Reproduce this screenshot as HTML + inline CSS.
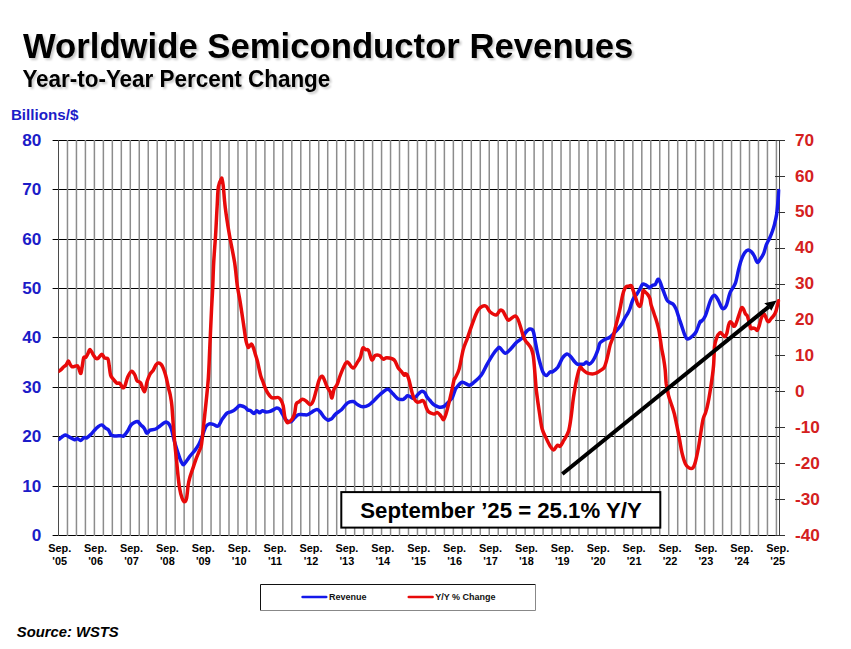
<!DOCTYPE html>
<html><head><meta charset="utf-8"><style>
html,body{margin:0;padding:0;background:#fff;}
body{width:851px;height:649px;overflow:hidden;position:relative;font-family:"Liberation Sans",sans-serif;}
svg{position:absolute;left:0;top:0;}
text{font-family:"Liberation Sans",sans-serif;font-weight:bold;}
.ll{font-size:17.2px;fill:#1c1cc8;}
.rl{font-size:17.2px;fill:#d42020;}
.xl{font-size:10.9px;fill:#000;}
.t1{font-size:34.7px;fill:#000;}
.t2{font-size:22.45px;fill:#000;}
</style></head><body>
<svg width="851" height="649" viewBox="0 0 851 649">
<defs><clipPath id="pc"><rect x="58.5" y="100" width="722" height="440"/></clipPath>
<filter id="sh" x="-5%" y="-20%" width="110%" height="150%"><feGaussianBlur in="SourceAlpha" stdDeviation="1.2"/><feOffset dx="2" dy="2" result="b"/><feComponentTransfer><feFuncA type="linear" slope="0.22"/></feComponentTransfer><feMerge><feMergeNode/><feMergeNode in="SourceGraphic"/></feMerge></filter></defs>
<text transform="translate(23.0,57.8) scale(1,1.01)" class="t1" filter="url(#sh)">Worldwide Semiconductor Revenues</text>
<text transform="translate(22.4,86.8) scale(1,1.03)" class="t2" filter="url(#sh)">Year-to-Year Percent Change</text>
<text x="10.9" y="120.3" style="font-size:15.2px;fill:#1c1cc8">Billions/$</text>
<line x1="52.6" y1="140.5" x2="785" y2="140.5" stroke="#000" stroke-width="1"/>
<line x1="52.6" y1="189.5" x2="780" y2="189.5" stroke="#000" stroke-width="1"/>
<line x1="52.6" y1="239.5" x2="780" y2="239.5" stroke="#000" stroke-width="1"/>
<line x1="52.6" y1="288.5" x2="780" y2="288.5" stroke="#000" stroke-width="1"/>
<line x1="52.6" y1="337.5" x2="780" y2="337.5" stroke="#000" stroke-width="1"/>
<line x1="52.6" y1="387.5" x2="780" y2="387.5" stroke="#000" stroke-width="1"/>
<line x1="52.6" y1="436.5" x2="780" y2="436.5" stroke="#000" stroke-width="1"/>
<line x1="52.6" y1="486.5" x2="780" y2="486.5" stroke="#000" stroke-width="1"/>
<line x1="52.6" y1="535.5" x2="785" y2="535.5" stroke="#000" stroke-width="1"/>
<line x1="67.47" y1="140" x2="67.47" y2="536" stroke="#8c8c8c" stroke-width="1.5"/>
<line x1="76.45" y1="140" x2="76.45" y2="536" stroke="#8c8c8c" stroke-width="1.5"/>
<line x1="85.42" y1="140" x2="85.42" y2="536" stroke="#8c8c8c" stroke-width="1.5"/>
<line x1="94.40" y1="140" x2="94.40" y2="536" stroke="#8c8c8c" stroke-width="1.5"/>
<line x1="103.37" y1="140" x2="103.37" y2="536" stroke="#8c8c8c" stroke-width="1.5"/>
<line x1="112.34" y1="140" x2="112.34" y2="536" stroke="#8c8c8c" stroke-width="1.5"/>
<line x1="121.32" y1="140" x2="121.32" y2="536" stroke="#8c8c8c" stroke-width="1.5"/>
<line x1="130.29" y1="140" x2="130.29" y2="536" stroke="#8c8c8c" stroke-width="1.5"/>
<line x1="139.27" y1="140" x2="139.27" y2="536" stroke="#8c8c8c" stroke-width="1.5"/>
<line x1="148.24" y1="140" x2="148.24" y2="536" stroke="#8c8c8c" stroke-width="1.5"/>
<line x1="157.21" y1="140" x2="157.21" y2="536" stroke="#8c8c8c" stroke-width="1.5"/>
<line x1="166.19" y1="140" x2="166.19" y2="536" stroke="#8c8c8c" stroke-width="1.5"/>
<line x1="175.16" y1="140" x2="175.16" y2="536" stroke="#8c8c8c" stroke-width="1.5"/>
<line x1="184.14" y1="140" x2="184.14" y2="536" stroke="#8c8c8c" stroke-width="1.5"/>
<line x1="193.11" y1="140" x2="193.11" y2="536" stroke="#8c8c8c" stroke-width="1.5"/>
<line x1="202.08" y1="140" x2="202.08" y2="536" stroke="#8c8c8c" stroke-width="1.5"/>
<line x1="211.06" y1="140" x2="211.06" y2="536" stroke="#8c8c8c" stroke-width="1.5"/>
<line x1="220.03" y1="140" x2="220.03" y2="536" stroke="#8c8c8c" stroke-width="1.5"/>
<line x1="229.01" y1="140" x2="229.01" y2="536" stroke="#8c8c8c" stroke-width="1.5"/>
<line x1="237.98" y1="140" x2="237.98" y2="536" stroke="#8c8c8c" stroke-width="1.5"/>
<line x1="246.95" y1="140" x2="246.95" y2="536" stroke="#8c8c8c" stroke-width="1.5"/>
<line x1="255.93" y1="140" x2="255.93" y2="536" stroke="#8c8c8c" stroke-width="1.5"/>
<line x1="264.90" y1="140" x2="264.90" y2="536" stroke="#8c8c8c" stroke-width="1.5"/>
<line x1="273.88" y1="140" x2="273.88" y2="536" stroke="#8c8c8c" stroke-width="1.5"/>
<line x1="282.85" y1="140" x2="282.85" y2="536" stroke="#8c8c8c" stroke-width="1.5"/>
<line x1="291.82" y1="140" x2="291.82" y2="536" stroke="#8c8c8c" stroke-width="1.5"/>
<line x1="300.80" y1="140" x2="300.80" y2="536" stroke="#8c8c8c" stroke-width="1.5"/>
<line x1="309.77" y1="140" x2="309.77" y2="536" stroke="#8c8c8c" stroke-width="1.5"/>
<line x1="318.75" y1="140" x2="318.75" y2="536" stroke="#8c8c8c" stroke-width="1.5"/>
<line x1="327.72" y1="140" x2="327.72" y2="536" stroke="#8c8c8c" stroke-width="1.5"/>
<line x1="336.69" y1="140" x2="336.69" y2="536" stroke="#8c8c8c" stroke-width="1.5"/>
<line x1="345.67" y1="140" x2="345.67" y2="536" stroke="#8c8c8c" stroke-width="1.5"/>
<line x1="354.64" y1="140" x2="354.64" y2="536" stroke="#8c8c8c" stroke-width="1.5"/>
<line x1="363.62" y1="140" x2="363.62" y2="536" stroke="#8c8c8c" stroke-width="1.5"/>
<line x1="372.59" y1="140" x2="372.59" y2="536" stroke="#8c8c8c" stroke-width="1.5"/>
<line x1="381.56" y1="140" x2="381.56" y2="536" stroke="#8c8c8c" stroke-width="1.5"/>
<line x1="390.54" y1="140" x2="390.54" y2="536" stroke="#8c8c8c" stroke-width="1.5"/>
<line x1="399.51" y1="140" x2="399.51" y2="536" stroke="#8c8c8c" stroke-width="1.5"/>
<line x1="408.49" y1="140" x2="408.49" y2="536" stroke="#8c8c8c" stroke-width="1.5"/>
<line x1="417.46" y1="140" x2="417.46" y2="536" stroke="#8c8c8c" stroke-width="1.5"/>
<line x1="426.43" y1="140" x2="426.43" y2="536" stroke="#8c8c8c" stroke-width="1.5"/>
<line x1="435.41" y1="140" x2="435.41" y2="536" stroke="#8c8c8c" stroke-width="1.5"/>
<line x1="444.38" y1="140" x2="444.38" y2="536" stroke="#8c8c8c" stroke-width="1.5"/>
<line x1="453.36" y1="140" x2="453.36" y2="536" stroke="#8c8c8c" stroke-width="1.5"/>
<line x1="462.33" y1="140" x2="462.33" y2="536" stroke="#8c8c8c" stroke-width="1.5"/>
<line x1="471.30" y1="140" x2="471.30" y2="536" stroke="#8c8c8c" stroke-width="1.5"/>
<line x1="480.28" y1="140" x2="480.28" y2="536" stroke="#8c8c8c" stroke-width="1.5"/>
<line x1="489.25" y1="140" x2="489.25" y2="536" stroke="#8c8c8c" stroke-width="1.5"/>
<line x1="498.23" y1="140" x2="498.23" y2="536" stroke="#8c8c8c" stroke-width="1.5"/>
<line x1="507.20" y1="140" x2="507.20" y2="536" stroke="#8c8c8c" stroke-width="1.5"/>
<line x1="516.17" y1="140" x2="516.17" y2="536" stroke="#8c8c8c" stroke-width="1.5"/>
<line x1="525.15" y1="140" x2="525.15" y2="536" stroke="#8c8c8c" stroke-width="1.5"/>
<line x1="534.12" y1="140" x2="534.12" y2="536" stroke="#8c8c8c" stroke-width="1.5"/>
<line x1="543.10" y1="140" x2="543.10" y2="536" stroke="#8c8c8c" stroke-width="1.5"/>
<line x1="552.07" y1="140" x2="552.07" y2="536" stroke="#8c8c8c" stroke-width="1.5"/>
<line x1="561.04" y1="140" x2="561.04" y2="536" stroke="#8c8c8c" stroke-width="1.5"/>
<line x1="570.02" y1="140" x2="570.02" y2="536" stroke="#8c8c8c" stroke-width="1.5"/>
<line x1="578.99" y1="140" x2="578.99" y2="536" stroke="#8c8c8c" stroke-width="1.5"/>
<line x1="587.97" y1="140" x2="587.97" y2="536" stroke="#8c8c8c" stroke-width="1.5"/>
<line x1="596.94" y1="140" x2="596.94" y2="536" stroke="#8c8c8c" stroke-width="1.5"/>
<line x1="605.91" y1="140" x2="605.91" y2="536" stroke="#8c8c8c" stroke-width="1.5"/>
<line x1="614.89" y1="140" x2="614.89" y2="536" stroke="#8c8c8c" stroke-width="1.5"/>
<line x1="623.86" y1="140" x2="623.86" y2="536" stroke="#8c8c8c" stroke-width="1.5"/>
<line x1="632.84" y1="140" x2="632.84" y2="536" stroke="#8c8c8c" stroke-width="1.5"/>
<line x1="641.81" y1="140" x2="641.81" y2="536" stroke="#8c8c8c" stroke-width="1.5"/>
<line x1="650.78" y1="140" x2="650.78" y2="536" stroke="#8c8c8c" stroke-width="1.5"/>
<line x1="659.76" y1="140" x2="659.76" y2="536" stroke="#8c8c8c" stroke-width="1.5"/>
<line x1="668.73" y1="140" x2="668.73" y2="536" stroke="#8c8c8c" stroke-width="1.5"/>
<line x1="677.71" y1="140" x2="677.71" y2="536" stroke="#8c8c8c" stroke-width="1.5"/>
<line x1="686.68" y1="140" x2="686.68" y2="536" stroke="#8c8c8c" stroke-width="1.5"/>
<line x1="695.65" y1="140" x2="695.65" y2="536" stroke="#8c8c8c" stroke-width="1.5"/>
<line x1="704.63" y1="140" x2="704.63" y2="536" stroke="#8c8c8c" stroke-width="1.5"/>
<line x1="713.60" y1="140" x2="713.60" y2="536" stroke="#8c8c8c" stroke-width="1.5"/>
<line x1="722.58" y1="140" x2="722.58" y2="536" stroke="#8c8c8c" stroke-width="1.5"/>
<line x1="731.55" y1="140" x2="731.55" y2="536" stroke="#8c8c8c" stroke-width="1.5"/>
<line x1="740.52" y1="140" x2="740.52" y2="536" stroke="#8c8c8c" stroke-width="1.5"/>
<line x1="749.50" y1="140" x2="749.50" y2="536" stroke="#8c8c8c" stroke-width="1.5"/>
<line x1="758.47" y1="140" x2="758.47" y2="536" stroke="#8c8c8c" stroke-width="1.5"/>
<line x1="767.45" y1="140" x2="767.45" y2="536" stroke="#8c8c8c" stroke-width="1.5"/>
<line x1="776.42" y1="140" x2="776.42" y2="536" stroke="#8c8c8c" stroke-width="1.5"/>
<line x1="58.5" y1="140" x2="58.5" y2="536" stroke="#4a4a4a" stroke-width="1"/>
<line x1="779.5" y1="140" x2="779.5" y2="536" stroke="#444" stroke-width="1"/>
<line x1="775" y1="140.5" x2="785" y2="140.5" stroke="#333" stroke-width="1"/>
<line x1="775" y1="176.5" x2="785" y2="176.5" stroke="#333" stroke-width="1"/>
<line x1="775" y1="212.5" x2="785" y2="212.5" stroke="#333" stroke-width="1"/>
<line x1="775" y1="248.5" x2="785" y2="248.5" stroke="#333" stroke-width="1"/>
<line x1="775" y1="284.5" x2="785" y2="284.5" stroke="#333" stroke-width="1"/>
<line x1="775" y1="320.5" x2="785" y2="320.5" stroke="#333" stroke-width="1"/>
<line x1="775" y1="355.5" x2="785" y2="355.5" stroke="#333" stroke-width="1"/>
<line x1="775" y1="391.5" x2="785" y2="391.5" stroke="#333" stroke-width="1"/>
<line x1="775" y1="427.5" x2="785" y2="427.5" stroke="#333" stroke-width="1"/>
<line x1="775" y1="463.5" x2="785" y2="463.5" stroke="#333" stroke-width="1"/>
<line x1="775" y1="499.5" x2="785" y2="499.5" stroke="#333" stroke-width="1"/>
<line x1="775" y1="535.5" x2="785" y2="535.5" stroke="#333" stroke-width="1"/>
<g clip-path="url(#pc)">
<path d="M58.5,439.5 C58.8,439.3 59.3,439.0 60.0,438.5 C60.7,438.0 61.9,436.9 62.8,436.3 C63.7,435.7 64.5,434.8 65.6,434.9 C66.7,435.0 68.0,436.3 69.5,437.1 C71.0,437.9 73.2,439.6 74.5,439.8 C75.8,440.0 76.3,438.4 77.3,438.5 C78.3,438.6 79.6,440.6 80.7,440.5 C81.8,440.4 83.0,438.0 84.0,437.6 C85.0,437.2 85.7,438.4 86.8,437.9 C87.9,437.4 89.4,435.9 90.7,434.6 C92.0,433.3 93.4,431.4 94.6,430.1 C95.8,428.8 96.8,427.7 98.0,426.8 C99.2,425.9 100.7,424.7 101.9,424.9 C103.1,425.1 104.1,427.0 105.2,427.9 C106.3,428.8 107.7,429.0 108.6,430.1 C109.5,431.2 110.1,433.7 110.8,434.6 C111.5,435.5 112.1,435.5 113.0,435.7 C113.9,435.9 115.1,436.0 116.4,436.0 C117.7,436.0 119.6,435.7 120.8,435.7 C122.0,435.7 122.5,436.8 123.6,436.0 C124.7,435.2 126.3,433.0 127.5,431.2 C128.7,429.4 129.8,426.5 130.9,425.1 C132.0,423.7 133.1,423.2 134.2,422.6 C135.3,422.0 136.5,421.1 137.6,421.5 C138.7,421.9 139.8,423.8 140.9,424.9 C142.0,426.0 143.4,427.1 144.3,428.4 C145.2,429.7 145.8,432.2 146.5,432.9 C147.2,433.5 147.6,432.8 148.2,432.3 C148.8,431.8 148.8,430.7 150.0,430.1 C151.2,429.6 154.0,429.7 155.7,429.0 C157.4,428.3 158.4,427.1 160.0,426.0 C161.6,424.9 163.7,422.8 165.0,422.3 C166.3,421.8 167.1,422.1 168.1,423.1 C169.1,424.1 170.2,425.5 171.2,428.5 C172.2,431.5 173.2,436.8 174.3,440.9 C175.5,445.0 176.9,449.7 178.1,453.2 C179.2,456.7 180.3,459.8 181.2,461.7 C182.1,463.6 182.6,464.9 183.5,464.8 C184.4,464.7 185.4,462.4 186.6,460.9 C187.8,459.3 189.1,457.3 190.5,455.5 C191.9,453.7 193.7,452.0 195.1,450.1 C196.5,448.2 197.8,446.2 199.0,444.0 C200.2,441.8 200.9,439.9 202.0,437.0 C203.1,434.1 204.6,428.9 205.8,426.7 C207.0,424.5 208.0,424.2 209.3,423.8 C210.6,423.4 211.9,424.0 213.4,424.4 C214.9,424.8 216.6,427.0 218.1,426.1 C219.6,425.2 220.8,421.2 222.3,419.1 C223.8,417.0 225.6,414.4 227.0,413.2 C228.4,412.0 229.3,412.5 230.5,412.0 C231.7,411.5 232.6,411.3 234.0,410.3 C235.4,409.3 237.7,407.0 238.7,406.2 C239.7,405.4 238.9,405.3 240.0,405.5 C241.1,405.7 243.7,406.4 245.0,407.2 C246.3,407.9 246.9,409.4 247.8,410.0 C248.7,410.6 249.6,410.1 250.6,410.7 C251.6,411.3 253.0,413.5 254.0,413.5 C255.0,413.5 255.9,410.8 256.8,410.7 C257.7,410.6 258.7,412.8 259.6,412.8 C260.5,412.8 261.4,410.8 262.4,410.7 C263.4,410.6 264.5,412.0 265.8,412.1 C267.1,412.2 268.6,411.9 270.0,411.4 C271.4,410.9 273.1,409.9 274.2,409.3 C275.3,408.7 276.0,407.9 276.9,407.9 C277.8,407.9 278.8,408.2 279.7,409.3 C280.6,410.4 281.4,412.4 282.5,414.2 C283.6,416.0 284.8,418.9 286.2,420.1 C287.6,421.4 289.4,422.1 290.8,421.7 C292.2,421.3 293.4,419.0 294.7,417.8 C296.0,416.6 297.2,415.2 298.6,414.7 C300.0,414.2 301.7,414.7 303.2,414.7 C304.7,414.7 306.3,415.2 307.8,414.7 C309.3,414.2 310.9,412.6 312.4,411.7 C313.9,410.8 315.7,409.4 317.0,409.4 C318.3,409.4 318.9,410.4 320.1,411.7 C321.3,413.0 322.7,415.7 324.0,417.1 C325.3,418.5 326.8,419.7 327.8,420.1 C328.8,420.5 329.3,419.7 330.0,419.4 C330.7,419.1 331.0,419.4 331.9,418.5 C332.8,417.6 334.0,415.6 335.6,414.1 C337.2,412.6 339.4,411.5 341.4,409.7 C343.3,407.9 345.4,404.5 347.3,403.1 C349.2,401.8 351.4,401.4 353.1,401.6 C354.8,401.8 355.9,403.6 357.5,404.5 C359.1,405.4 360.9,406.6 362.7,406.7 C364.5,406.8 366.7,406.3 368.5,405.3 C370.3,404.3 371.8,402.6 373.6,400.9 C375.4,399.2 377.2,396.9 379.5,395.0 C381.8,393.1 385.3,389.4 387.5,389.2 C389.7,389.0 391.0,392.0 392.7,393.6 C394.4,395.2 396.1,397.7 397.8,398.7 C399.5,399.7 401.7,399.5 402.9,399.4 C404.1,399.3 404.2,398.6 405.0,398.0 C405.8,397.4 406.6,396.0 407.5,395.8 C408.4,395.6 409.2,396.3 410.1,396.7 C411.0,397.1 412.1,398.4 413.1,398.4 C414.1,398.4 415.1,397.5 416.0,396.7 C416.9,395.9 417.6,394.6 418.6,393.7 C419.6,392.8 420.8,391.3 421.9,391.2 C422.9,391.1 424.0,391.9 424.9,392.9 C425.8,393.9 426.1,395.8 427.0,397.1 C427.9,398.4 428.9,399.2 430.0,400.5 C431.1,401.8 432.6,403.7 433.8,404.7 C435.0,405.7 436.1,406.0 437.2,406.4 C438.3,406.8 439.5,407.3 440.6,407.3 C441.7,407.3 442.9,407.0 444.0,406.4 C445.1,405.8 446.0,404.5 447.0,403.5 C448.0,402.5 449.0,401.6 449.9,400.5 C450.8,399.4 451.6,398.8 452.5,397.1 C453.4,395.4 454.4,391.8 455.0,390.3 C455.6,388.8 454.9,389.6 456.1,388.2 C457.3,386.8 459.9,382.7 462.1,382.2 C464.3,381.7 467.1,385.2 469.1,385.2 C471.1,385.2 472.1,383.9 474.1,382.2 C476.1,380.5 479.0,378.2 481.2,375.2 C483.4,372.2 485.2,367.6 487.2,364.1 C489.2,360.6 491.4,356.8 493.2,354.1 C495.0,351.4 497.1,349.2 498.2,348.1 C499.3,347.1 498.8,346.9 500.0,347.8 C501.2,348.7 503.6,353.2 505.5,353.3 C507.4,353.4 509.2,350.4 511.1,348.5 C513.0,346.6 514.8,343.9 516.6,342.2 C518.5,340.5 520.7,339.7 522.2,338.1 C523.7,336.5 524.3,334.0 525.6,332.5 C526.9,331.0 528.5,329.3 529.8,329.1 C531.1,328.9 532.3,329.1 533.2,331.2 C534.1,333.3 534.6,338.0 535.3,341.6 C536.0,345.2 536.6,348.9 537.4,352.6 C538.2,356.3 539.3,360.5 540.2,363.7 C541.1,366.9 541.9,370.0 542.9,372.0 C543.9,374.0 545.2,375.5 546.4,375.5 C547.6,375.5 549.0,372.6 550.0,372.0 C551.0,371.4 551.3,372.5 552.6,371.7 C553.9,370.9 556.1,369.5 557.8,367.2 C559.4,364.9 561.0,360.3 562.5,358.1 C564.0,355.9 565.6,354.2 567.0,354.0 C568.4,353.8 569.6,355.5 570.8,356.7 C572.0,357.9 572.9,359.8 574.0,361.0 C575.1,362.2 576.2,363.7 577.3,364.2 C578.4,364.7 579.4,364.2 580.5,364.2 C581.6,364.2 582.7,364.5 583.7,364.2 C584.7,363.9 585.5,362.1 586.4,362.1 C587.3,362.1 588.1,364.3 589.1,364.2 C590.1,364.1 591.3,362.9 592.4,361.5 C593.5,360.1 594.6,357.8 595.6,355.6 C596.6,353.5 597.6,350.7 598.3,348.6 C599.0,346.5 599.0,344.4 600.0,342.9 C601.0,341.4 602.6,340.7 604.3,339.7 C606.0,338.7 608.4,338.3 610.2,337.0 C612.0,335.7 613.7,333.6 615.1,332.1 C616.5,330.6 617.7,329.2 618.9,327.8 C620.1,326.4 621.1,325.1 622.1,323.5 C623.1,321.9 623.9,319.7 624.8,318.1 C625.7,316.5 626.7,315.2 627.5,313.8 C628.3,312.4 629.0,311.1 629.6,309.5 C630.2,307.9 630.7,305.9 631.3,304.1 C631.9,302.3 632.5,300.3 633.4,298.7 C634.3,297.1 635.5,296.0 636.6,294.4 C637.7,292.8 638.9,290.7 639.9,289.0 C640.9,287.3 641.7,284.9 642.6,284.2 C643.5,283.5 644.3,284.2 645.3,284.7 C646.3,285.1 647.8,286.4 648.5,286.9 C649.2,287.4 648.6,288.1 649.3,287.8 C650.0,287.5 651.7,285.9 652.7,285.3 C653.7,284.7 654.3,285.4 655.3,284.4 C656.3,283.4 657.3,278.4 658.6,279.3 C659.9,280.2 661.9,287.3 663.0,290.0 C664.1,292.7 664.4,293.8 665.1,295.5 C665.8,297.2 666.4,299.2 667.2,300.4 C668.0,301.6 668.9,301.8 669.9,302.5 C670.9,303.2 672.3,303.4 673.4,304.5 C674.5,305.6 675.3,307.2 676.2,309.4 C677.1,311.6 678.0,314.9 678.9,317.7 C679.8,320.5 680.8,323.2 681.7,326.0 C682.6,328.8 683.7,332.2 684.5,334.3 C685.3,336.4 685.8,337.8 686.6,338.5 C687.4,339.2 688.3,339.0 689.3,338.5 C690.3,338.0 691.6,336.8 692.8,335.7 C693.9,334.6 695.0,333.9 696.2,331.6 C697.4,329.3 699.2,323.5 700.0,321.9 C700.8,320.2 700.2,322.7 701.1,321.7 C702.0,320.7 703.6,319.7 705.2,316.1 C706.8,312.6 709.0,303.9 710.5,300.4 C712.0,296.9 713.1,295.2 714.4,295.2 C715.7,295.2 717.0,298.2 718.3,300.4 C719.6,302.6 721.0,307.4 722.3,308.3 C723.6,309.2 724.9,308.3 726.2,305.7 C727.5,303.1 728.6,296.3 730.1,292.6 C731.6,288.9 733.9,287.2 735.3,283.4 C736.7,279.6 737.5,273.8 738.5,269.9 C739.5,266.0 740.2,263.2 741.2,260.3 C742.2,257.4 743.5,254.4 744.7,252.7 C745.9,251.0 747.1,250.0 748.2,249.9 C749.4,249.8 750.6,250.9 751.6,252.0 C752.6,253.1 753.5,254.5 754.4,256.2 C755.3,257.9 756.3,261.8 757.2,262.4 C758.1,263.0 758.9,261.0 759.9,259.6 C760.9,258.2 762.3,256.5 763.4,254.1 C764.5,251.7 765.2,247.8 766.2,245.1 C767.2,242.4 768.6,240.5 769.6,238.2 C770.6,235.9 771.6,233.5 772.4,231.2 C773.2,228.9 773.8,227.1 774.5,224.3 C775.2,221.5 776.0,218.3 776.6,214.6 C777.2,210.9 777.5,206.2 777.9,202.2 C778.3,198.2 778.7,192.4 778.9,190.4" fill="none" stroke="#1418ea" stroke-width="3.5" stroke-linejoin="round" stroke-linecap="round"/>
<path d="M58.7,371.4 C59.1,371.1 60.1,370.4 61.0,369.6 C61.9,368.8 62.9,367.6 63.8,366.8 C64.6,366.0 65.3,365.9 66.1,365.0 C66.9,364.1 67.7,361.2 68.4,361.1 C69.1,361.0 69.6,363.6 70.2,364.5 C70.8,365.4 71.3,366.5 72.1,366.8 C72.9,367.1 74.0,366.5 74.9,366.3 C75.8,366.1 76.8,365.2 77.6,365.9 C78.4,366.6 79.0,369.3 79.5,370.5 C80.0,371.7 80.4,374.1 80.9,373.3 C81.4,372.5 81.8,368.5 82.3,365.9 C82.8,363.3 83.1,359.1 83.7,357.6 C84.3,356.1 85.3,357.7 86.0,357.1 C86.7,356.5 87.2,355.1 87.8,353.9 C88.4,352.7 89.1,350.1 89.7,349.7 C90.3,349.3 90.8,350.6 91.5,351.6 C92.2,352.6 93.0,354.6 93.8,355.7 C94.6,356.8 95.3,358.1 96.1,358.5 C96.9,358.9 97.5,358.7 98.4,358.0 C99.4,357.3 100.8,354.3 101.8,354.3 C102.8,354.3 103.6,357.2 104.6,358.0 C105.6,358.8 107.1,357.6 107.9,358.9 C108.7,360.2 108.8,363.2 109.2,365.9 C109.7,368.6 109.9,372.9 110.6,375.1 C111.3,377.3 112.4,378.0 113.4,379.3 C114.4,380.6 115.5,382.3 116.6,383.0 C117.7,383.7 118.9,382.6 119.9,383.4 C120.9,384.2 121.8,387.2 122.6,387.6 C123.4,388.0 124.2,387.5 125.0,385.7 C125.8,383.9 126.6,379.4 127.7,377.0 C128.8,374.6 130.2,371.8 131.4,371.4 C132.6,371.0 133.8,373.1 134.7,374.7 C135.6,376.2 136.0,379.3 137.0,380.7 C138.0,382.1 139.5,381.1 140.7,383.0 C141.9,384.9 143.3,392.0 144.4,391.8 C145.5,391.6 146.2,384.5 147.1,381.6 C148.0,378.7 149.0,376.1 150.0,374.2 C151.0,372.3 152.1,372.0 153.1,370.5 C154.1,369.0 154.9,366.3 155.8,365.1 C156.7,363.9 157.6,363.2 158.5,363.1 C159.4,363.0 160.4,363.6 161.2,364.5 C162.0,365.4 162.6,366.6 163.3,368.3 C164.0,370.0 164.9,372.6 165.5,374.8 C166.1,377.0 166.6,379.0 167.1,381.3 C167.6,383.6 168.2,386.5 168.7,388.8 C169.2,391.1 169.8,392.4 170.3,395.3 C170.8,398.2 171.4,400.5 171.9,406.0 C172.4,411.5 173.0,421.9 173.5,428.5 C174.0,435.1 174.5,440.1 175.0,445.5 C175.5,450.9 176.1,455.8 176.6,460.9 C177.1,466.0 177.6,471.8 178.1,476.4 C178.6,481.0 179.0,485.1 179.7,488.7 C180.3,492.3 181.2,495.8 182.0,498.0 C182.8,500.2 183.5,501.8 184.3,501.8 C185.1,501.8 186.0,500.7 186.6,498.0 C187.2,495.3 187.6,489.0 188.1,485.6 C188.6,482.2 188.9,480.7 189.7,477.9 C190.5,475.1 191.8,471.7 192.8,468.6 C193.8,465.5 194.9,462.2 195.9,459.4 C196.9,456.6 198.1,454.0 199.0,451.7 C199.9,449.4 200.7,448.6 201.3,445.5 C201.9,442.4 202.3,437.4 202.8,433.1 C203.3,428.9 203.6,425.4 204.2,420.0 C204.8,414.6 205.5,408.1 206.2,401.0 C206.9,393.9 207.8,386.6 208.4,377.2 C209.0,367.8 209.4,355.6 209.9,344.8 C210.4,334.0 211.0,321.5 211.4,312.4 C211.8,303.3 212.2,298.5 212.6,290.2 C213.0,281.9 213.2,271.8 213.7,262.6 C214.2,253.4 215.0,244.1 215.6,234.8 C216.2,225.5 216.6,215.0 217.1,207.0 C217.6,199.0 217.6,191.5 218.4,186.7 C219.2,181.9 221.2,179.4 221.8,178.0 C222.0,179.2 222.6,180.7 223.2,185.5 C223.8,190.3 224.2,198.8 225.2,207.0 C226.2,215.2 227.8,225.5 229.4,234.8 C231.0,244.1 233.3,254.2 234.6,262.6 C235.9,271.0 236.3,278.5 237.2,285.0 C238.1,291.5 239.1,295.2 240.1,301.6 C241.1,308.0 242.5,316.9 243.4,323.2 C244.3,329.5 245.1,335.6 245.7,339.2 C246.3,342.8 246.6,343.3 247.1,344.7 C247.6,346.1 247.8,347.6 248.5,347.5 C249.2,347.4 250.5,344.0 251.3,344.0 C252.1,344.0 252.6,345.8 253.3,347.5 C254.0,349.2 254.7,352.1 255.4,354.4 C256.1,356.7 256.8,358.6 257.5,361.4 C258.2,364.2 259.0,368.6 259.6,371.1 C260.2,373.7 260.4,374.9 261.0,376.7 C261.6,378.5 262.4,380.3 263.1,382.2 C263.8,384.1 264.3,385.9 265.1,387.8 C265.9,389.7 266.8,391.7 267.9,393.3 C268.9,394.9 270.2,396.8 271.4,397.5 C272.6,398.2 273.8,397.8 274.9,397.8 C276.0,397.8 277.3,397.1 278.3,397.5 C279.3,397.9 280.3,398.9 281.1,400.3 C281.9,401.7 282.6,403.1 283.2,405.8 C283.8,408.5 284.1,413.5 284.7,416.3 C285.3,419.1 286.2,421.5 287.0,422.4 C287.8,423.3 288.4,422.3 289.3,421.7 C290.2,421.1 291.5,420.0 292.4,418.6 C293.3,417.2 294.1,415.6 294.7,413.2 C295.3,410.8 295.4,405.9 296.2,404.0 C297.0,402.1 298.3,402.4 299.3,401.6 C300.3,400.8 301.2,399.4 302.4,399.3 C303.6,399.2 305.0,400.3 306.3,401.2 C307.6,402.1 309.0,404.8 310.1,404.7 C311.2,404.6 312.2,403.3 313.2,400.9 C314.2,398.5 315.3,393.7 316.3,390.1 C317.3,386.5 318.4,381.6 319.4,379.3 C320.4,377.0 321.5,375.9 322.4,376.2 C323.3,376.4 323.9,379.0 324.7,380.8 C325.5,382.6 326.2,385.2 327.1,387.0 C328.0,388.8 329.2,389.8 330.0,391.6 C330.8,393.4 331.2,398.4 331.9,398.0 C332.6,397.6 333.2,391.4 334.1,389.2 C335.0,387.0 336.0,387.0 337.0,384.8 C338.0,382.6 338.9,378.9 340.0,376.0 C341.1,373.1 342.4,369.5 343.6,367.2 C344.8,364.9 345.7,362.0 347.3,362.1 C348.9,362.2 351.4,368.0 353.1,368.0 C354.8,368.0 356.3,363.9 357.5,362.1 C358.7,360.3 359.6,359.3 360.5,357.0 C361.4,354.7 361.8,349.4 362.7,348.2 C363.6,347.0 364.6,349.2 365.6,349.6 C366.6,350.0 367.4,348.7 368.5,350.4 C369.6,352.1 370.8,359.0 371.9,359.9 C373.0,360.8 373.8,356.2 375.1,355.5 C376.4,354.8 378.1,354.9 379.5,355.5 C380.9,356.1 382.0,358.8 383.2,359.2 C384.4,359.6 385.0,357.6 386.8,357.7 C388.6,357.8 392.3,358.3 394.1,359.9 C395.9,361.5 396.6,365.2 397.8,367.2 C399.0,369.1 400.4,370.2 401.5,371.6 C402.6,373.0 403.8,374.9 404.4,375.3 C405.0,375.7 404.6,373.9 405.0,373.8 C405.4,373.7 406.5,373.8 407.1,374.7 C407.7,375.6 408.2,377.4 408.8,379.3 C409.4,381.2 409.9,383.6 410.5,386.1 C411.1,388.7 411.9,392.3 412.6,394.6 C413.3,396.9 413.9,398.4 414.7,399.7 C415.5,401.0 416.4,401.8 417.3,402.2 C418.2,402.6 419.0,402.1 419.8,401.8 C420.6,401.5 421.6,400.4 422.4,400.5 C423.2,400.6 423.9,401.5 424.5,402.6 C425.1,403.7 425.6,405.8 426.2,407.3 C426.8,408.8 427.4,410.5 428.3,411.5 C429.2,412.5 430.3,412.8 431.3,413.2 C432.3,413.6 433.2,414.2 434.2,414.1 C435.2,414.0 436.3,412.3 437.2,412.4 C438.1,412.5 438.9,413.6 439.7,414.5 C440.5,415.4 441.2,416.6 441.9,417.5 C442.5,418.4 443.0,420.0 443.6,419.6 C444.2,419.2 445.0,416.9 445.7,414.9 C446.4,412.8 447.1,410.0 447.8,407.3 C448.5,404.6 449.2,401.8 449.9,398.8 C450.6,395.8 451.3,392.8 452.0,389.5 C452.7,386.2 453.7,381.2 454.2,379.3 C454.7,377.4 454.3,379.9 455.1,378.2 C455.9,376.5 457.8,373.8 459.1,369.1 C460.4,364.4 461.8,355.1 463.1,350.1 C464.4,345.1 465.9,342.4 467.1,339.1 C468.3,335.8 468.9,333.5 470.1,330.1 C471.3,326.8 472.8,322.4 474.1,319.0 C475.4,315.6 476.8,312.1 478.1,310.0 C479.5,307.9 480.9,307.0 482.2,306.4 C483.5,305.8 484.9,305.5 486.2,306.4 C487.5,307.3 488.5,310.6 490.2,312.0 C491.9,313.4 494.6,315.3 496.2,315.0 C497.8,314.7 498.9,311.0 500.0,310.4 C501.1,309.8 501.9,310.2 502.8,311.1 C503.7,312.0 504.6,314.4 505.5,315.9 C506.4,317.4 507.2,319.8 508.3,320.1 C509.4,320.5 510.6,318.7 511.8,318.0 C513.0,317.3 514.2,315.7 515.2,315.9 C516.2,316.1 517.1,317.4 518.0,319.4 C518.9,321.4 519.9,324.8 520.8,327.7 C521.7,330.6 522.7,334.5 523.5,336.7 C524.3,338.9 524.8,339.6 525.6,340.9 C526.4,342.2 527.5,343.0 528.4,344.3 C529.3,345.6 530.4,346.6 531.2,348.5 C532.0,350.4 532.6,351.9 533.2,355.4 C533.8,358.9 534.2,364.7 534.6,369.3 C535.0,373.9 535.4,379.5 535.7,383.1 C536.0,386.7 535.8,386.0 536.4,391.0 C537.0,396.0 538.5,406.7 539.5,413.0 C540.5,419.3 541.0,424.6 542.1,428.7 C543.2,432.8 544.7,435.0 546.0,437.9 C547.3,440.8 548.8,443.8 550.0,445.8 C551.2,447.8 552.3,450.1 553.5,450.0 C554.7,449.9 556.3,445.9 557.4,445.3 C558.5,444.7 559.1,447.1 560.2,446.2 C561.3,445.3 562.5,442.6 563.9,440.2 C565.3,437.8 567.2,435.2 568.4,431.6 C569.6,428.0 570.0,424.0 570.9,418.3 C571.8,412.6 572.5,403.9 573.5,397.3 C574.5,390.8 575.6,384.0 576.7,379.0 C577.8,374.0 579.0,369.1 580.0,367.5 C581.0,365.9 581.5,368.7 582.7,369.6 C583.9,370.5 585.4,372.2 587.0,372.9 C588.6,373.6 590.8,373.9 592.4,373.9 C594.0,373.9 595.3,373.5 596.7,372.9 C598.1,372.3 599.8,371.1 601.0,370.2 C602.2,369.3 603.3,369.0 604.2,367.5 C605.1,366.0 605.7,363.5 606.4,361.0 C607.1,358.5 607.9,355.1 608.5,352.4 C609.1,349.7 609.5,347.4 610.2,344.9 C610.9,342.4 612.0,340.5 612.9,337.5 C613.8,334.5 614.7,330.3 615.6,326.7 C616.5,323.1 617.5,319.4 618.3,316.0 C619.1,312.6 619.9,309.4 620.5,306.3 C621.1,303.2 621.6,300.1 622.1,297.6 C622.6,295.1 623.1,293.0 623.7,291.2 C624.3,289.4 625.1,287.7 625.9,286.9 C626.7,286.1 627.7,286.5 628.6,286.3 C629.5,286.1 630.5,285.0 631.3,285.8 C632.1,286.6 632.7,289.2 633.4,291.2 C634.1,293.2 634.9,295.5 635.6,297.6 C636.3,299.8 637.0,302.7 637.7,304.1 C638.4,305.6 639.3,306.7 639.9,306.3 C640.5,305.9 641.0,304.5 641.5,302.0 C642.0,299.5 642.5,292.8 643.1,291.2 C643.7,289.6 644.5,291.6 645.3,292.2 C646.1,292.8 647.2,293.8 648.0,294.9 C648.8,296.0 649.5,297.0 650.0,298.7 C650.5,300.4 650.5,302.7 651.2,305.2 C651.9,307.7 653.1,310.7 654.0,313.5 C654.9,316.3 656.0,319.1 656.8,321.9 C657.6,324.7 658.3,327.4 658.9,330.2 C659.5,333.0 659.8,335.5 660.2,338.5 C660.7,341.5 661.0,344.7 661.6,348.2 C662.2,351.7 663.1,355.7 663.7,359.3 C664.3,362.9 664.8,366.0 665.2,370.0 C665.6,374.0 665.7,379.3 666.2,383.5 C666.8,387.7 667.6,391.7 668.5,395.4 C669.4,399.1 670.8,402.4 671.8,405.5 C672.8,408.6 673.5,410.6 674.4,414.0 C675.2,417.4 676.0,421.6 676.9,425.8 C677.8,430.0 678.6,434.9 679.5,439.4 C680.4,443.9 681.0,448.8 682.0,452.9 C683.0,457.0 684.3,461.4 685.4,463.9 C686.5,466.4 687.5,467.1 688.8,467.8 C690.1,468.5 691.9,468.9 693.0,467.8 C694.1,466.7 694.6,464.4 695.5,461.4 C696.4,458.3 697.2,454.0 698.1,449.5 C699.0,445.0 699.8,439.4 700.6,434.3 C701.4,429.2 702.2,422.8 703.1,419.1 C704.0,415.4 704.9,415.1 705.7,412.3 C706.6,409.5 707.4,406.3 708.2,402.1 C709.1,397.9 710.1,391.4 710.8,386.9 C711.5,382.4 712.0,378.8 712.5,375.1 C713.0,371.5 713.2,369.8 713.6,365.0 C714.0,360.2 714.1,350.6 714.6,346.2 C715.1,341.8 715.9,340.4 716.5,338.5 C717.1,336.6 717.5,335.7 718.1,334.7 C718.8,333.7 719.6,332.4 720.4,332.4 C721.2,332.4 721.9,334.0 722.7,334.7 C723.5,335.4 724.3,336.9 725.0,336.6 C725.7,336.3 726.3,335.0 726.9,333.1 C727.5,331.2 728.0,327.2 728.5,325.4 C729.0,323.5 729.4,322.4 730.0,322.0 C730.6,321.6 731.4,322.4 732.0,323.1 C732.6,323.8 732.9,325.9 733.5,326.2 C734.1,326.5 734.8,326.0 735.4,325.0 C736.0,324.0 736.6,321.9 737.3,320.0 C737.9,318.1 738.6,315.9 739.3,313.9 C740.0,311.8 740.9,308.5 741.6,307.7 C742.3,306.9 742.9,308.2 743.5,309.2 C744.1,310.2 744.8,312.8 745.4,313.9 C746.0,315.0 746.7,314.5 747.3,315.9 C747.9,317.3 748.6,320.3 749.2,322.4 C749.8,324.5 750.2,327.6 750.8,328.5 C751.4,329.4 752.0,328.1 752.7,328.1 C753.4,328.1 754.2,328.1 755.0,328.5 C755.8,328.9 756.6,330.9 757.3,330.4 C758.0,329.9 758.6,327.4 759.3,325.4 C759.9,323.4 760.5,320.4 761.2,318.5 C761.9,316.6 762.8,314.3 763.5,313.9 C764.2,313.5 764.8,315.0 765.4,316.2 C766.0,317.4 766.7,319.9 767.3,320.8 C767.9,321.7 768.2,322.0 768.9,321.6 C769.5,321.2 770.4,319.5 771.2,318.5 C772.0,317.5 773.1,316.5 773.9,315.4 C774.7,314.2 775.2,313.3 775.8,311.6 C776.4,309.9 776.9,307.2 777.4,305.4 C777.9,303.6 778.3,301.6 778.5,300.8" fill="none" stroke="#e80a0a" stroke-width="3.5" stroke-linejoin="round" stroke-linecap="round"/>
</g>
<line x1="562.3" y1="474" x2="769" y2="306.6" stroke="#000" stroke-width="4"/>
<polygon points="776.6,300.5 764.2,303.2 768.6,306.4 771.3,310.8" fill="#000"/>
<rect x="341.3" y="492.1" width="319" height="35.5" fill="#fff" stroke="#000" stroke-width="2"/>
<text x="41.3" y="146.1" text-anchor="end" class="ll">80</text>
<text x="41.3" y="195.1" text-anchor="end" class="ll">70</text>
<text x="41.3" y="245.1" text-anchor="end" class="ll">60</text>
<text x="41.3" y="294.1" text-anchor="end" class="ll">50</text>
<text x="41.3" y="343.1" text-anchor="end" class="ll">40</text>
<text x="41.3" y="393.1" text-anchor="end" class="ll">30</text>
<text x="41.3" y="442.1" text-anchor="end" class="ll">20</text>
<text x="41.3" y="492.1" text-anchor="end" class="ll">10</text>
<text x="41.3" y="541.1" text-anchor="end" class="ll">0</text>
<text x="795" y="145.6" class="rl">70</text>
<text x="795" y="181.5" class="rl">60</text>
<text x="795" y="217.4" class="rl">50</text>
<text x="795" y="253.3" class="rl">40</text>
<text x="795" y="289.2" class="rl">30</text>
<text x="795" y="325.1" class="rl">20</text>
<text x="795" y="361.1" class="rl">10</text>
<text x="795" y="397.0" class="rl">0</text>
<text x="795" y="432.9" class="rl">-10</text>
<text x="795" y="468.8" class="rl">-20</text>
<text x="795" y="504.7" class="rl">-30</text>
<text x="795" y="540.6" class="rl">-40</text>
<text x="59.7" y="551.7" text-anchor="middle" class="xl">Sep.</text>
<text x="59.7" y="564.7" text-anchor="middle" class="xl">'05</text>
<text x="95.6" y="551.7" text-anchor="middle" class="xl">Sep.</text>
<text x="95.6" y="564.7" text-anchor="middle" class="xl">'06</text>
<text x="131.5" y="551.7" text-anchor="middle" class="xl">Sep.</text>
<text x="131.5" y="564.7" text-anchor="middle" class="xl">'07</text>
<text x="167.4" y="551.7" text-anchor="middle" class="xl">Sep.</text>
<text x="167.4" y="564.7" text-anchor="middle" class="xl">'08</text>
<text x="203.3" y="551.7" text-anchor="middle" class="xl">Sep.</text>
<text x="203.3" y="564.7" text-anchor="middle" class="xl">'09</text>
<text x="239.2" y="551.7" text-anchor="middle" class="xl">Sep.</text>
<text x="239.2" y="564.7" text-anchor="middle" class="xl">'10</text>
<text x="275.1" y="551.7" text-anchor="middle" class="xl">Sep.</text>
<text x="275.1" y="564.7" text-anchor="middle" class="xl">'11</text>
<text x="311.0" y="551.7" text-anchor="middle" class="xl">Sep.</text>
<text x="311.0" y="564.7" text-anchor="middle" class="xl">'12</text>
<text x="346.9" y="551.7" text-anchor="middle" class="xl">Sep.</text>
<text x="346.9" y="564.7" text-anchor="middle" class="xl">'13</text>
<text x="382.8" y="551.7" text-anchor="middle" class="xl">Sep.</text>
<text x="382.8" y="564.7" text-anchor="middle" class="xl">'14</text>
<text x="418.7" y="551.7" text-anchor="middle" class="xl">Sep.</text>
<text x="418.7" y="564.7" text-anchor="middle" class="xl">'15</text>
<text x="454.6" y="551.7" text-anchor="middle" class="xl">Sep.</text>
<text x="454.6" y="564.7" text-anchor="middle" class="xl">'16</text>
<text x="490.5" y="551.7" text-anchor="middle" class="xl">Sep.</text>
<text x="490.5" y="564.7" text-anchor="middle" class="xl">'17</text>
<text x="526.4" y="551.7" text-anchor="middle" class="xl">Sep.</text>
<text x="526.4" y="564.7" text-anchor="middle" class="xl">'18</text>
<text x="562.3" y="551.7" text-anchor="middle" class="xl">Sep.</text>
<text x="562.3" y="564.7" text-anchor="middle" class="xl">'19</text>
<text x="598.2" y="551.7" text-anchor="middle" class="xl">Sep.</text>
<text x="598.2" y="564.7" text-anchor="middle" class="xl">'20</text>
<text x="634.1" y="551.7" text-anchor="middle" class="xl">Sep.</text>
<text x="634.1" y="564.7" text-anchor="middle" class="xl">'21</text>
<text x="670.0" y="551.7" text-anchor="middle" class="xl">Sep.</text>
<text x="670.0" y="564.7" text-anchor="middle" class="xl">'22</text>
<text x="705.9" y="551.7" text-anchor="middle" class="xl">Sep.</text>
<text x="705.9" y="564.7" text-anchor="middle" class="xl">'23</text>
<text x="741.8" y="551.7" text-anchor="middle" class="xl">Sep.</text>
<text x="741.8" y="564.7" text-anchor="middle" class="xl">'24</text>
<text x="777.7" y="551.7" text-anchor="middle" class="xl">Sep.</text>
<text x="777.7" y="564.7" text-anchor="middle" class="xl">'25</text>
<text x="501" y="518.2" text-anchor="middle" style="font-size:22.2px;fill:#000">September ’25 = 25.1% Y/Y</text>
<rect x="260" y="584" width="276" height="27" fill="#fff"/><path d="M260.5,611 V584.5 H536" fill="none" stroke="#111" stroke-width="1"/><path d="M535.5,584 V610.5 H260" fill="none" stroke="#888" stroke-width="1"/>
<line x1="302.6" y1="597" x2="326.2" y2="597" stroke="#1418ea" stroke-width="2.6" stroke-linecap="round"/>
<line x1="408.8" y1="597" x2="432.6" y2="597" stroke="#e80a0a" stroke-width="2.6" stroke-linecap="round"/>
<text x="329" y="599.8" style="font-size:9px;fill:#111">Revenue</text>
<text x="435.2" y="599.8" style="font-size:9px;fill:#111">Y/Y % Change</text>
<text x="16.8" y="637.2" style="font-size:14.8px;font-style:italic;fill:#000">Source: WSTS</text>
</svg>
</body></html>
